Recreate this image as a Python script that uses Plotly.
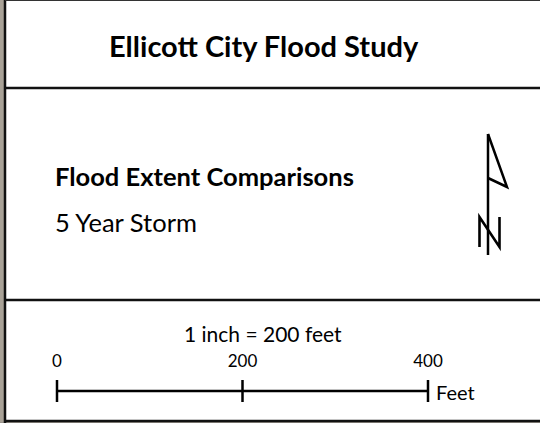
import plotly.graph_objects as go

# Data
title_text = "Ellicott City Flood Study"
subtitle_text = "Flood Extent Comparisons"
storm_text = "5 Year Storm"
scale_text = "1 inch = 200 feet"
scale_ticks = [0, 200, 400]
scale_tick_labels = ["0", "200", "400"]
scale_unit = "Feet"

W, H = 540, 423
# scale bar pixel mapping: 0 ft -> 57 px, 400 ft -> 428 px
px0, px400 = 57.0, 428.0
ft_per_px = 400.0 / (px400 - px0)
xr = [(0 - px0) * ft_per_px, (W - px0) * ft_per_px]

def px(x):
    return x / W

fig = go.Figure()

bar_y = 391
fig.add_trace(go.Scatter(x=[scale_ticks[0], scale_ticks[-1]], y=[bar_y, bar_y], mode="lines",
                         line=dict(color="black", width=2.5), hoverinfo="skip", showlegend=False))
for t in scale_ticks:
    fig.add_trace(go.Scatter(x=[t, t], y=[380, 402], mode="lines",
                             line=dict(color="black", width=2.5), hoverinfo="skip", showlegend=False))
fig.add_trace(go.Scatter(x=scale_ticks, y=[363] * len(scale_ticks), mode="text",
                         text=scale_tick_labels, textposition="middle center",
                         textfont=dict(family="Lato", size=17, color="black"),
                         hoverinfo="skip", showlegend=False))
fig.add_trace(go.Scatter(x=[scale_ticks[-1] + 8 * ft_per_px], y=[395], mode="text",
                         text=[scale_unit], textposition="middle right",
                         textfont=dict(family="Lato", size=20, color="black"),
                         hoverinfo="skip", showlegend=False))

shapes = []
shapes.append(dict(type="rect", xref="paper", yref="y", x0=0, x1=px(4), y0=0, y1=H,
                   fillcolor="#a9a297", line=dict(width=0)))
shapes.append(dict(type="rect", xref="paper", yref="y", x0=0, x1=1, y0=422, y1=H,
                   fillcolor="#9a958d", line=dict(width=0)))
shapes.append(dict(type="line", xref="paper", yref="y", x0=px(5), x1=px(5), y0=0, y1=H,
                   line=dict(color="#111111", width=2.5)))
shapes.append(dict(type="line", xref="paper", yref="y", x0=px(5), x1=1, y0=0.5, y1=0.5,
                   line=dict(color="#333333", width=1.2)))
shapes.append(dict(type="line", xref="paper", yref="y", x0=px(5), x1=1, y0=421, y1=421,
                   line=dict(color="#111111", width=2.5)))
for yy in [88, 300]:
    shapes.append(dict(type="line", xref="paper", yref="y", x0=px(5), x1=1, y0=yy, y1=yy,
                       line=dict(color="#111111", width=2.5)))

def p(x, y):
    return f"{px(x)} {y}"

shapes.append(dict(type="line", xref="paper", yref="y", x0=px(488), x1=px(488), y0=134, y1=255,
                   line=dict(color="black", width=2.5)))
shapes.append(dict(type="path", xref="paper", yref="y",
                   path=f"M {p(488,134)} L {p(507,187)} L {p(488,178)}",
                   line=dict(color="black", width=2.5)))
shapes.append(dict(type="path", xref="paper", yref="y",
                   path=f"M {p(479.5,247)} L {p(479.5,217)} L {p(499.5,247)} L {p(499.5,217)}",
                   line=dict(color="black", width=2.6)))

annotations = [
    dict(text=f"<b>{title_text}</b>", xref="paper", yref="y", x=px(264), y=45,
         xanchor="center", yanchor="middle", showarrow=False,
         font=dict(family="Lato", size=29, color="black")),
    dict(text=f"<b>{subtitle_text}</b>", xref="paper", yref="y", x=px(53), y=176,
         xanchor="left", yanchor="middle", showarrow=False,
         font=dict(family="Lato", size=25.5, color="black")),
    dict(text=storm_text, xref="paper", yref="y", x=px(53), y=222,
         xanchor="left", yanchor="middle", showarrow=False,
         font=dict(family="Lato", size=25.5, color="black")),
    dict(text=scale_text, xref="paper", yref="y", x=px(263), y=333,
         xanchor="center", yanchor="middle", showarrow=False,
         font=dict(family="Lato", size=21, color="black")),
]

fig.update_layout(
    width=W, height=H,
    margin=dict(l=0, r=0, t=0, b=0),
    paper_bgcolor="white", plot_bgcolor="white",
    xaxis=dict(range=xr, visible=False, fixedrange=True),
    yaxis=dict(range=[H, 0], visible=False, fixedrange=True),
    shapes=shapes, annotations=annotations,
    showlegend=False,
)

fig.write_html("out.html", config={"displayModeBar": False},
               post_script="document.body.style.margin='0';document.body.style.overflow='hidden';")
